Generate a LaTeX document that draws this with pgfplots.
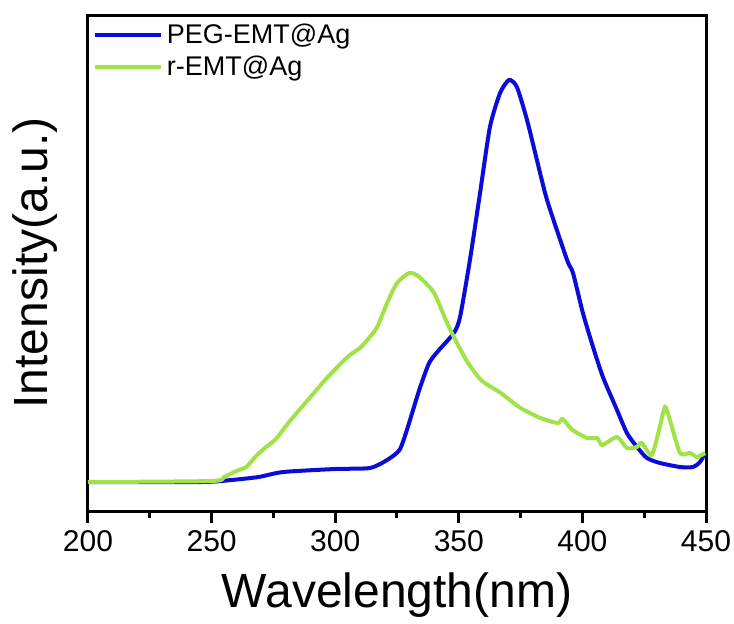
\documentclass[border=0pt]{standalone}
\usepackage{pgfplots}
\pgfplotsset{compat=1.18}
\usepackage{fontspec}
\setmainfont{Liberation Sans}
\definecolor{pegblue}{RGB}{12,12,218}
\definecolor{rgreen}{RGB}{160,226,72}

\begin{document}
\begin{tikzpicture}
\useasboundingbox (-44pt,-56pt) rectangle (323pt,255.5pt);
\begin{axis}[
    scale only axis,
    width=309pt,
    height=248pt,
    xmin=200, xmax=450,
    ymin=0, ymax=496,
    xtick={200,250,...,450},
    minor x tick num=1,
    ytick=\empty,
    xtick pos=bottom,
    tick align=outside,
    major tick length=6pt,
    minor tick length=3.5pt,
    every tick/.style={line width=1.5pt, black},
    axis line style={line width=1.5pt},
    /pgf/number format/assume math mode=true,
    ticklabel style={font=\fontsize{15}{18}\selectfont},
    xlabel={Wavelength(nm)},
    ylabel={Intensity(a.u.)},
    xlabel style={font=\fontsize{24}{28}\selectfont, at={(axis description cs:0.5,-0.17)}, anchor=center},
    ylabel style={font=\fontsize{24}{28}\selectfont, at={(axis description cs:-0.085,0.5)}, anchor=center},
    legend style={draw=none, fill=none, at={(axis description cs:0.004,0.995)}, anchor=north west,
        font=\fontsize{13.5}{15}\selectfont, inner sep=1pt, row sep=0.5pt},
    legend cell align=left,
    legend image code/.code={\draw[#1] (0pt,0pt) -- (33pt,0pt);},
]
\addplot[pegblue, line width=2pt, smooth, tension=0.4] coordinates {
    (200,29) (246,29) (258,31) (269,34) (279,39) (300,42) (314,43)
    (321,51) (326,61) (329,81) (334,121) (338,148) (342,161) (348,178)
    (350.5,194) (354.5,251) (358.6,318) (362.6,384) (366.7,418) (370.3,431)
    (373.5,424) (377.6,391) (381.6,351) (385.7,311) (393.8,251) (396.2,238)
    (400.2,198) (404.3,164) (408.3,134) (414,101) (418,78) (422.1,64)
    (426.1,53) (431.4,48) (439.5,44) (444.7,44) (447.6,49) (449.6,58)
};
\addlegendentry{PEG-EMT@Ag}
\addplot[rgreen, line width=2pt, smooth, tension=0.4] coordinates {
    (200,29) (250,30) (255,34) (260,40) (264,44) (268,55) (272,64) (276,72)
    (282,91) (290,114) (297,134) (305,154) (310,163) (313,171) (317,184)
    (321,208) (325,228) (330,238) (334,234) (340,218) (346,184) (353,151)
    (359,131) (367,118) (375,103) (383,93) (390,88) (392,92) (396,81)
    (402,73) (406,73) (408,66) (414,74) (418,63) (422,64) (424,68) (428,56)
    (431,81) (433.4,104) (435.4,91) (439.5,58) (443.5,58) (446.4,54) (449.6,58)
};
\addlegendentry{r-EMT@Ag}
\end{axis}
\end{tikzpicture}
\end{document}
